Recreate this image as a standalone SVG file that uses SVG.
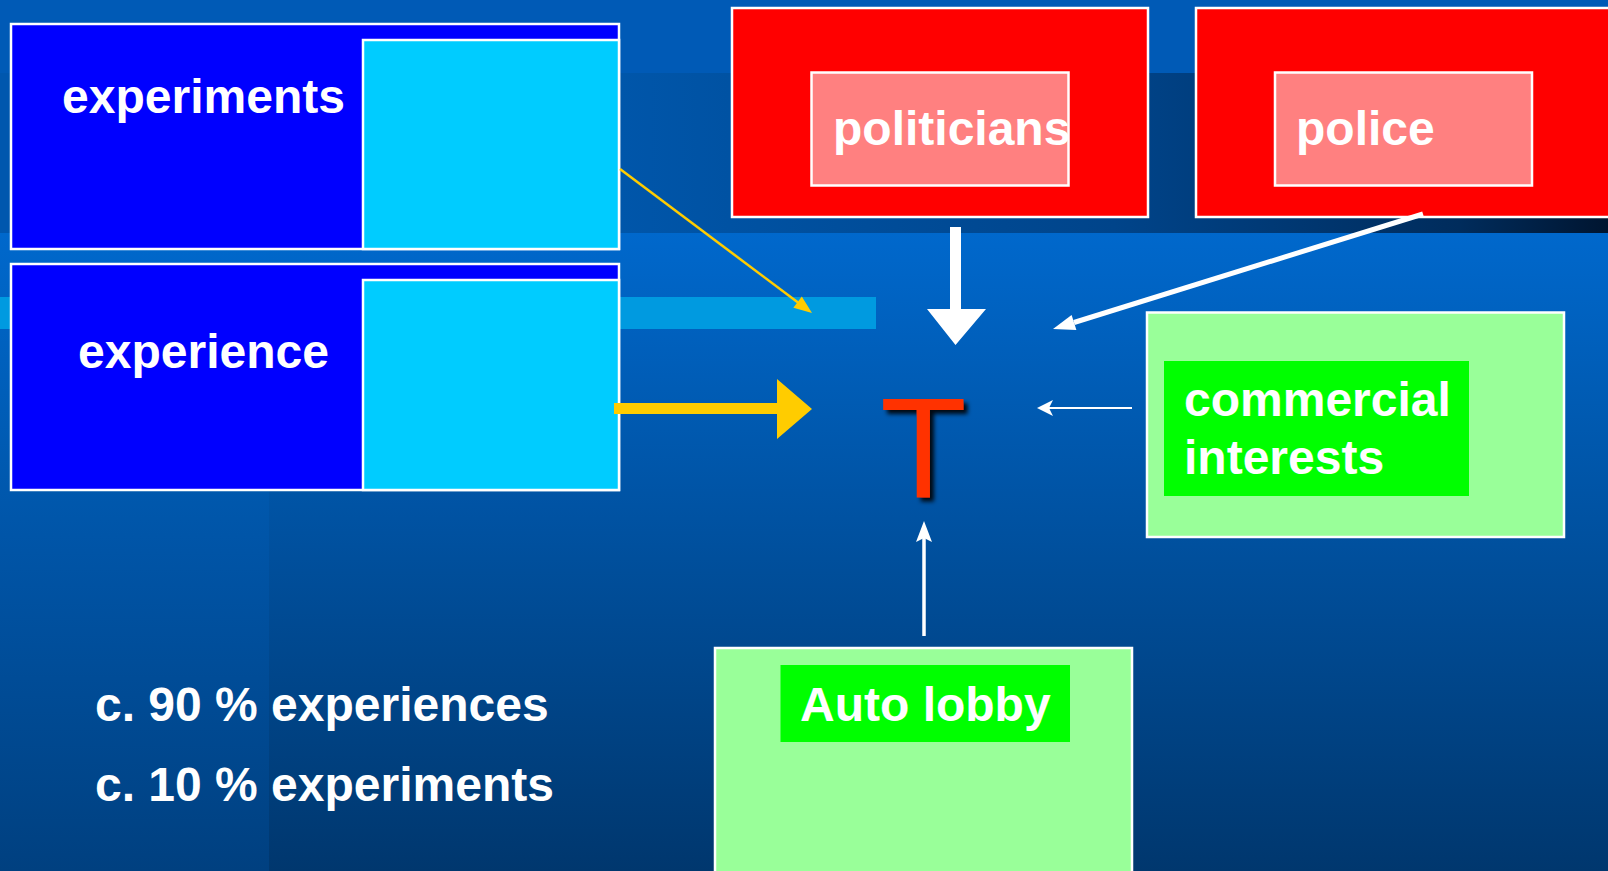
<svg xmlns="http://www.w3.org/2000/svg" width="1608" height="871" viewBox="0 0 1608 871">
<defs>
<linearGradient id="bgMain" gradientUnits="userSpaceOnUse" x1="0" y1="233" x2="0" y2="871">
<stop offset="0" stop-color="#0068cc"/>
<stop offset="1" stop-color="#00376e"/>
</linearGradient>
<linearGradient id="bgLeft" gradientUnits="userSpaceOnUse" x1="0" y1="233" x2="0" y2="871">
<stop offset="0" stop-color="#0068cc"/>
<stop offset="1" stop-color="#004080"/>
</linearGradient>
<linearGradient id="band" gradientUnits="userSpaceOnUse" x1="620" y1="0" x2="1608" y2="0">
<stop offset="0" stop-color="#0056aa"/>
<stop offset="0.5" stop-color="#00448a"/>
<stop offset="0.85" stop-color="#002c5c"/>
<stop offset="1" stop-color="#001530"/>
</linearGradient>
<filter id="shadow" x="-20%" y="-20%" width="150%" height="150%">
<feDropShadow dx="4" dy="4" stdDeviation="2" flood-color="#000" flood-opacity="0.9"/>
</filter>
<style>
.lbl{font-family:"Liberation Sans",Arial,sans-serif;font-weight:bold;font-size:48px;fill:#fff}
.box{stroke:#fff;stroke-width:2.5}
.blue{fill:#0000ff}
.cyan{fill:#00ccff}
.red{fill:#ff0000}
.pink{fill:#ff8080}
.lgreen{fill:#99ff99}
.green{fill:#00ff00}
.wline{stroke:#fff;fill:none}
</style>
</defs>

<g id="background">
<rect x="0" y="0" width="1608" height="871" fill="url(#bgMain)"/>
<rect x="0" y="233" width="269" height="638" fill="url(#bgLeft)"/>
<rect x="0" y="0" width="1608" height="73" fill="#005ab6"/>
<rect x="0" y="73" width="620" height="160" fill="#0057ae"/>
<rect x="620" y="73" width="988" height="160" fill="url(#band)"/>
<rect x="0" y="297" width="876" height="32" fill="#009ae0"/>
</g>

<g id="node-experiments">
<rect class="box blue" x="11" y="24" width="608" height="225"/>
<rect class="box cyan" x="363" y="40" width="256" height="209"/>
<text class="lbl" x="203.5" y="113" text-anchor="middle">experiments</text>
</g>

<g id="node-experience">
<rect class="box blue" x="11" y="264" width="608" height="226"/>
<rect class="box cyan" x="363" y="280" width="256" height="210"/>
<text class="lbl" x="203.5" y="368" text-anchor="middle">experience</text>
</g>

<g id="node-politicians">
<rect class="box red" x="732" y="8" width="416" height="209"/>
<rect class="box pink" x="811.5" y="72.5" width="257" height="113"/>
<text class="lbl" x="833" y="145">politicians</text>
</g>

<g id="node-police">
<rect class="box red" x="1196" y="8" width="420" height="209"/>
<rect class="box pink" x="1275" y="72.5" width="257" height="113"/>
<text class="lbl" x="1296" y="145">police</text>
</g>

<g id="node-commercial">
<rect class="box lgreen" x="1147" y="312.5" width="417" height="224.5"/>
<rect class="green" x="1164" y="361" width="305" height="135"/>
<text class="lbl" x="1184" y="416">commercial</text>
<text class="lbl" x="1184" y="474">interests</text>
</g>

<g id="node-autolobby">
<rect class="box lgreen" x="715" y="648" width="417" height="240"/>
<rect class="green" x="780.5" y="665" width="289.5" height="77"/>
<text class="lbl" x="800" y="721">Auto lobby</text>
</g>

<g id="node-T">
<text x="880" y="497.7" font-family="'Liberation Sans',Arial,sans-serif" font-size="142" fill="#ff3300" filter="url(#shadow)">T</text>
</g>

<g id="notes">
<text class="lbl" x="95" y="721">c. 90 % experiences</text>
<text class="lbl" x="95" y="801">c. 10 % experiments</text>
</g>

<g id="connectors">
<line x1="620" y1="169" x2="798" y2="302.5" stroke="#ffcc00" stroke-width="2.5"/>
<polygon points="812,313 793.4,307.8 801.8,296.6" fill="#ffcc00"/>
<polygon points="614,403 777,403 777,379 812,409 777,439 777,414 614,414" fill="#ffcc00"/>
<polygon points="950,227 961,227 961,309 986,309 955.5,345 927,309 950,309" fill="#fff"/>
<line class="wline" x1="1423" y1="214" x2="1074" y2="322.5" stroke-width="5"/>
<polygon points="1053,329 1076.4,330.1 1071.6,314.9" fill="#fff"/>
<line class="wline" x1="1132" y1="408" x2="1049" y2="408" stroke-width="2"/>
<polygon points="1037,408 1053,400 1049,408 1053,416" fill="#fff"/>
<line class="wline" x1="924" y1="636" x2="924" y2="538" stroke-width="3.5"/>
<polygon points="924,521 932,542 924,538 916,542" fill="#fff"/>
</g>
</svg>
